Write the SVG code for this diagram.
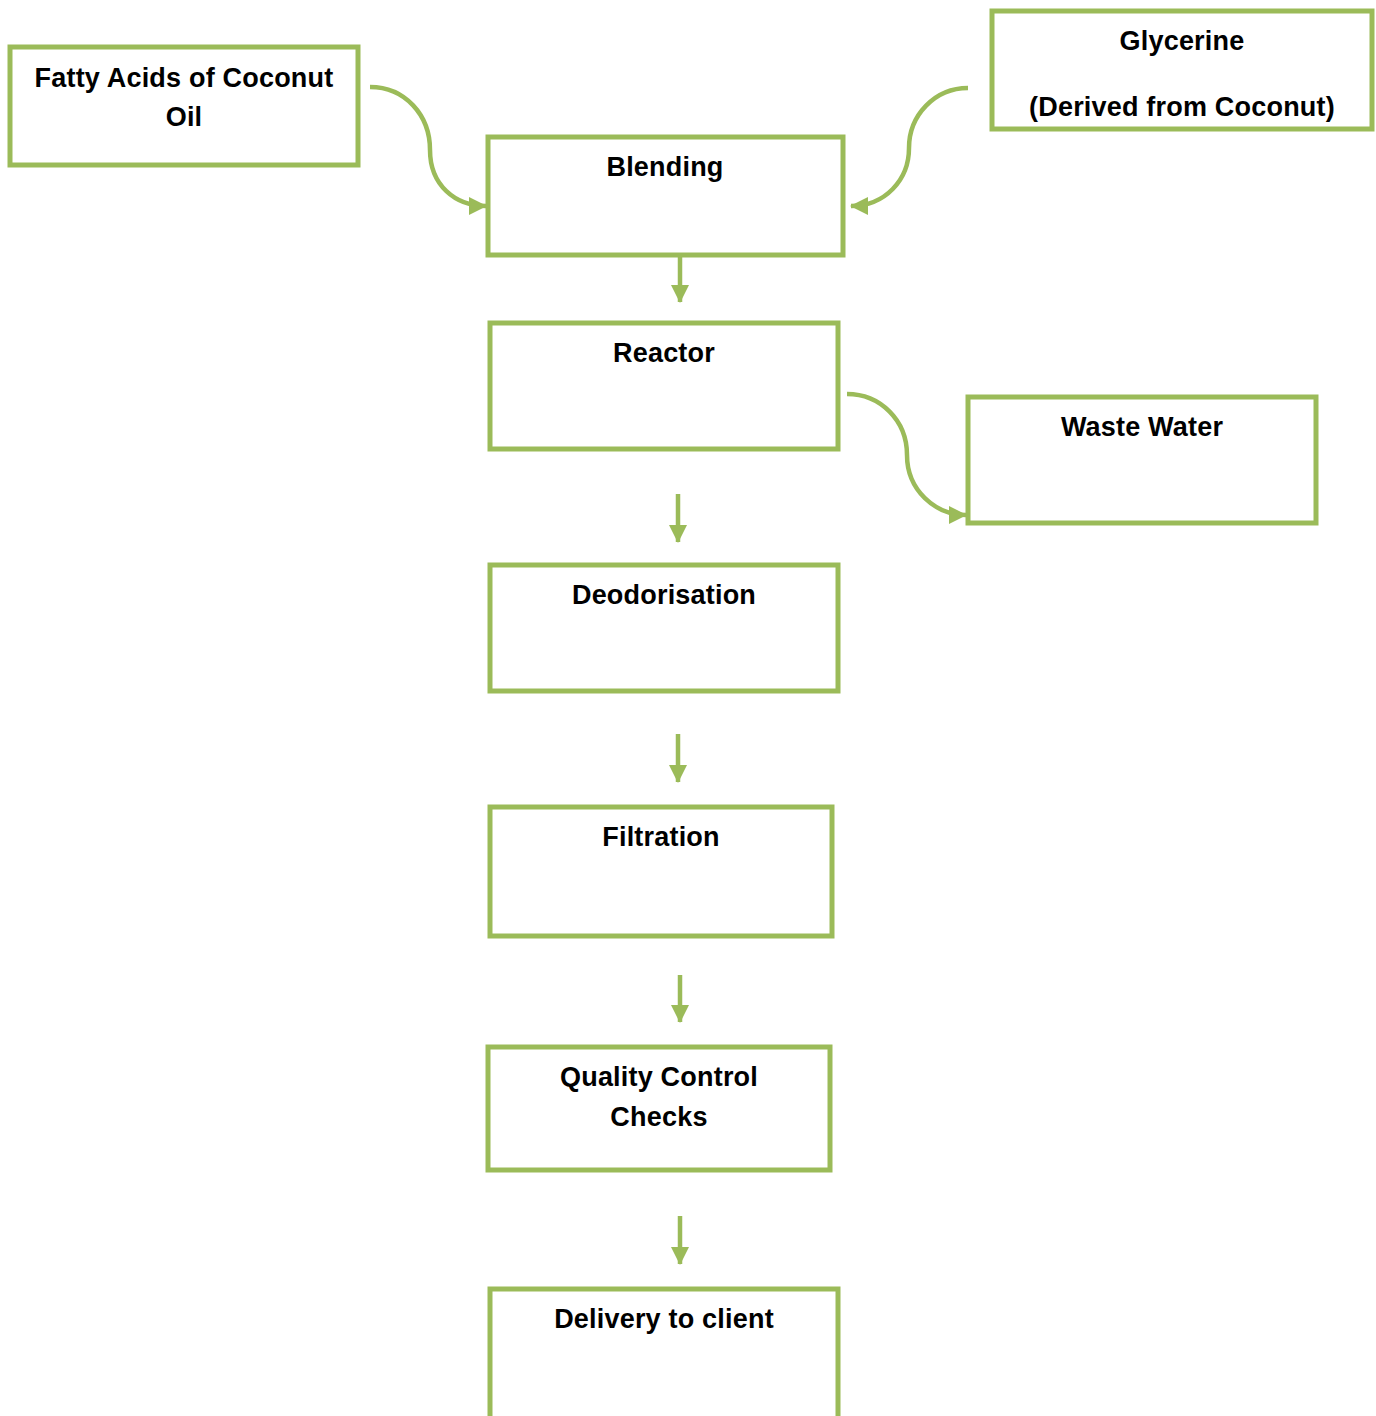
<svg xmlns="http://www.w3.org/2000/svg" width="1376" height="1416" viewBox="0 0 1376 1416">
<style>
.box{fill:#ffffff;stroke:#9BBB59;stroke-width:5}
.lbl{font-family:"Liberation Sans",Arial,sans-serif;font-weight:bold;font-size:27px;letter-spacing:0.2px;fill:#000000;text-anchor:middle}
.con{fill:none;stroke:#9BBB59;stroke-width:4.5}
</style>
<defs>
<marker id="ah" markerUnits="userSpaceOnUse" markerWidth="18" markerHeight="18" refX="17" refY="9" orient="auto" viewBox="0 0 18 18">
<path d="M0,0 L18,9 L0,18 z" fill="#9BBB59"/>
</marker>
</defs>
<rect width="1376" height="1416" fill="#ffffff"/>
<g id="fatty"><rect class="box" x="10" y="47" width="348" height="118"/><text class="lbl" x="184" y="87">Fatty Acids of Coconut</text><text class="lbl" x="184" y="126">Oil</text></g>
<g id="glycerine"><rect class="box" x="992" y="11" width="380" height="118"/><text class="lbl" x="1182" y="50">Glycerine</text><text class="lbl" x="1182" y="116">(Derived from Coconut)</text></g>
<g id="blending"><rect class="box" x="488" y="137" width="355" height="118"/><text class="lbl" x="665" y="176">Blending</text></g>
<g id="reactor"><rect class="box" x="490" y="323" width="348" height="126"/><text class="lbl" x="664" y="362">Reactor</text></g>
<g id="waste"><rect class="box" x="968" y="397" width="348" height="126"/><text class="lbl" x="1142" y="436">Waste Water</text></g>
<g id="deodorisation"><rect class="box" x="490" y="565" width="348" height="126"/><text class="lbl" x="664" y="604">Deodorisation</text></g>
<g id="filtration"><rect class="box" x="490" y="807" width="342" height="129"/><text class="lbl" x="661" y="846">Filtration</text></g>
<g id="qc"><rect class="box" x="488" y="1047" width="342" height="123"/><text class="lbl" x="659" y="1086">Quality Control</text><text class="lbl" x="659" y="1126">Checks</text></g>
<g id="delivery"><rect class="box" x="490" y="1289" width="348" height="200"/><text class="lbl" x="664" y="1328">Delivery to client</text></g>
<g id="connectors">
<path class="con" marker-end="url(#ah)" d="M370,87 C405,87 430,115 430,150 C430,185 455,206 486,206"/>
<path class="con" marker-end="url(#ah)" d="M968,88 C935,88 909,115 909,148 C909,180 885,206 851,206"/>
<path class="con" marker-end="url(#ah)" d="M847,394 C880,394 907,420 907,455 C907,490 935,515 966,515"/>
<path class="con" marker-end="url(#ah)" d="M680,257 L680,302"/>
<path class="con" marker-end="url(#ah)" d="M678,494 L678,542"/>
<path class="con" marker-end="url(#ah)" d="M678,734 L678,782"/>
<path class="con" marker-end="url(#ah)" d="M680,975 L680,1022"/>
<path class="con" marker-end="url(#ah)" d="M680,1216 L680,1264"/>
</g>
</svg>
